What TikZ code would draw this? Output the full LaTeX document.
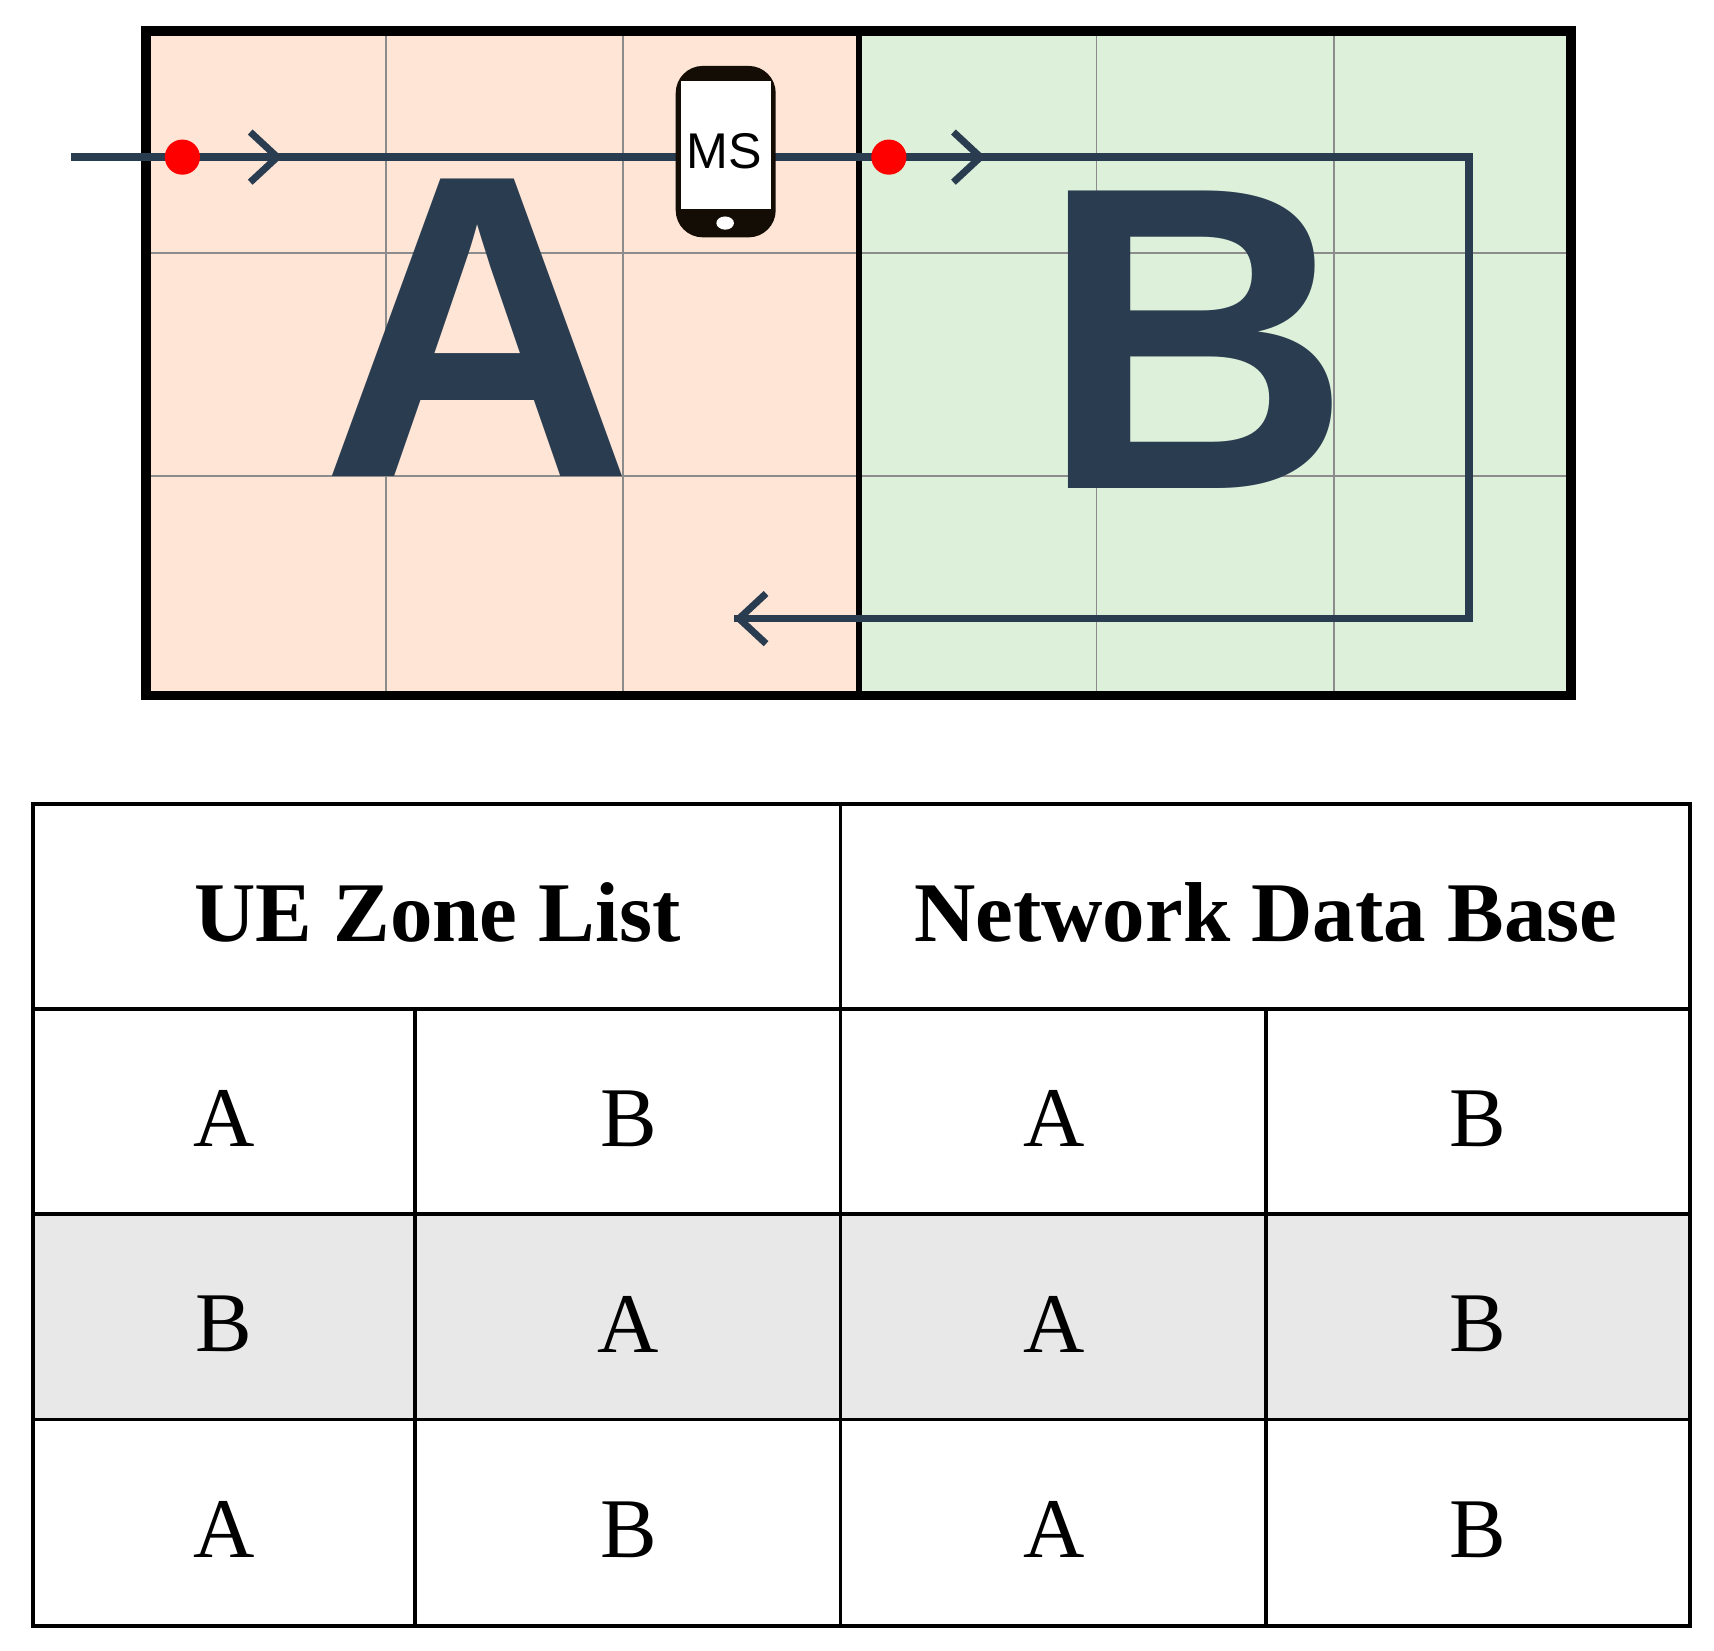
\documentclass[tikz,border=0pt]{standalone}
\usepackage{fontspec}
\setmainfont{Liberation Serif}
\newfontfamily\arial{Liberation Sans}
\usetikzlibrary{arrows.meta}
\definecolor{zoneA}{HTML}{FEE5D6}
\definecolor{zoneB}{HTML}{DDF0D9}
\definecolor{ink}{HTML}{2A3C50}
\definecolor{rowgray}{HTML}{E8E8E8}
\tikzset{
  grid/.style={draw=black!45, line width=0.5pt},
  route/.style={draw=ink, line width=2pt},
  chev/.style={-{Straight Barb[length=7pt,width=13pt,line width=1.8pt]}},
  reddot/.style={circle, fill=red, inner sep=0pt, minimum size=3.2mm},
  cell/.style={font=\fontsize{22}{22}\selectfont},
  hcell/.style={font=\fontsize{22}{22}\selectfont\bfseries},
  big/.style={text=ink, font=\arial\bfseries\fontsize{112}{112}\selectfont}
}
\begin{document}
\begin{tikzpicture}[x=0.1mm,y=-0.1mm]
\useasboundingbox (0,0) rectangle (1560,1502);
% zones
\fill[zoneA] (133,28) rectangle (782,633);
\fill[zoneB] (782,28) rectangle (1430,633);
\foreach \x in {351,567,998,1214} \draw[grid] (\x,28) -- (\x,633);
\foreach \y in {230,433} \draw[grid] (133,\y) -- (1430,\y);
\draw[line width=1.5pt] (782,28) -- (782,633);
\draw[line width=2.5pt] (133,28) rectangle (1430,633);
% letters
\node[big] (la) at (435,298) {A};
\node[big] (lb) at (1088,309) {B};
% route
\coordinate (start) at (65,143);
\coordinate (c1) at (257,143);
\coordinate (c2) at (897,143);
\coordinate (corner1) at (1337,143);
\coordinate (corner2) at (1337,563);
\coordinate (end) at (668,563);
\draw[route] (start) -- (corner1) -- (corner2) -- (end);
\draw[route,chev] (220,143) -- (c1);
\draw[route,chev] (860,143) -- (c2);
\draw[route,chev] (720,563) -- (end);
\node[reddot] (d1) at (166,143) {};
\node[reddot] (d2) at (809,143) {};
% phone
\fill[black!90!brown, rounded corners=7pt] (615,60) rectangle (706,216);
\fill[white] (620,74) rectangle (702,190);
\fill[white] (660,203) ellipse (8 and 6);
\node[font=\arial\fontsize{13}{13}\selectfont] (ms) at (659,138) {MS};
% table
\fill[rowgray] (30,1105) rectangle (1538,1292);
\draw[line width=1pt] (30,732) rectangle (1538,1480);
\foreach \y in {918,1105,1292} \draw[line width=1pt] (30,\y) -- (1538,\y);
\draw[line width=1pt] (765,732) -- (765,1480);
\draw[line width=1pt] (378,918) -- (378,1480);
\draw[line width=1pt] (1152,918) -- (1152,1480);
\node[hcell] (h1) at (398,830) {UE Zone List};
\node[hcell] (h2) at (1152,830) {Network Data Base};
\node[cell] at (204,1018) {A}; \node[cell] at (572,1018) {B};
\node[cell] at (959,1018) {A}; \node[cell] at (1345,1018) {B};
\node[cell] at (204,1205) {B}; \node[cell] at (572,1205) {A};
\node[cell] at (959,1205) {A}; \node[cell] at (1345,1205) {B};
\node[cell] at (204,1392) {A}; \node[cell] at (572,1392) {B};
\node[cell] at (959,1392) {A}; \node[cell] at (1345,1392) {B};
\end{tikzpicture}
\end{document}
